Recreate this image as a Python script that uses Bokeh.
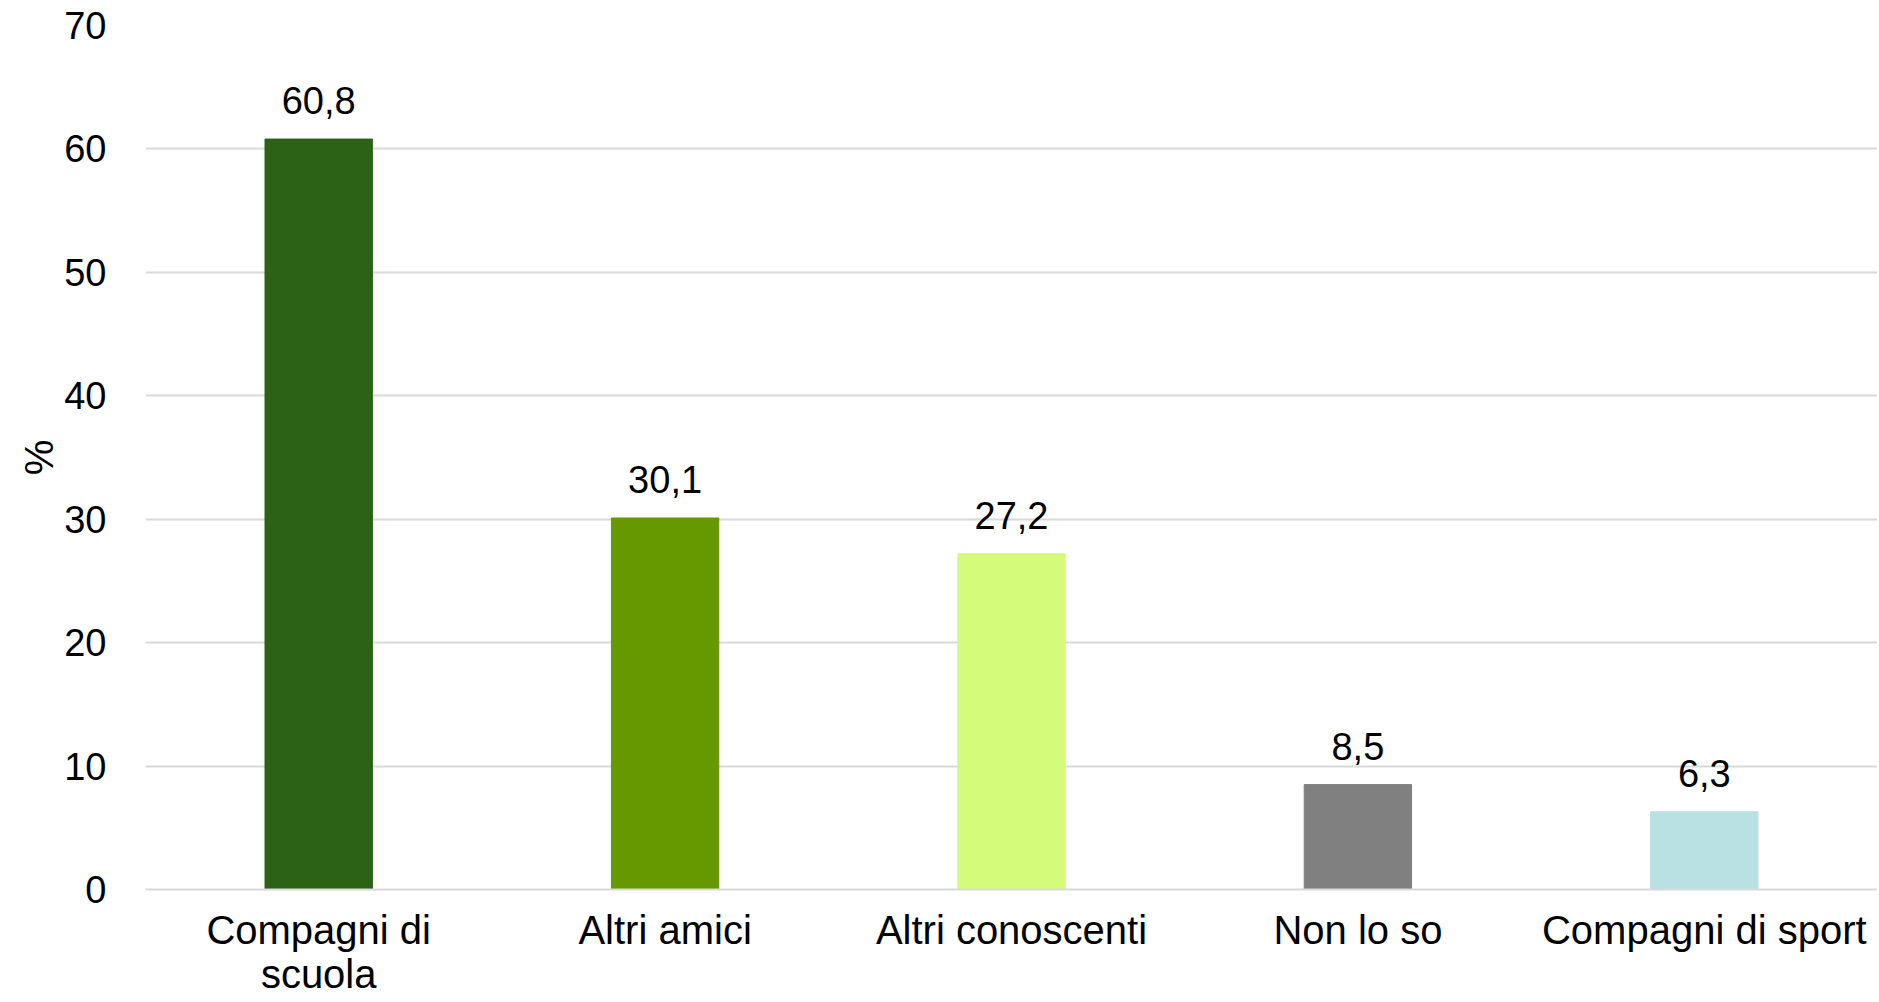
from bokeh.plotting import figure
from bokeh.models import ColumnDataSource, FactorRange, Range1d, FixedTicker
from bokeh.core.properties import value
from bokeh.embed import file_html
from bokeh.resources import INLINE

categories = ["Compagni di\nscuola", "Altri amici", "Altri conoscenti", "Non lo so", "Compagni di sport"]
values = [60.8, 30.1, 27.2, 8.5, 6.3]
labels = ["60,8", "30,1", "27,2", "8,5", "6,3"]
colors = ["#2b6215", "#669900", "#d4fb7a", "#808080", "#b9e0e3"]
y_ticks = [0, 10, 20, 30, 40, 50, 60, 70]

FONT = "Liberation Sans"
FS = "38px"
FS_CAT = "40px"
LABEL_GAP = 3.1  # data units between bar top and its value label baseline

src = ColumnDataSource(dict(cat=categories, val=values, lab=labels, col=colors,
                            laby=[v + LABEL_GAP for v in values]))

p = figure(
    x_range=FactorRange(*categories, range_padding=0),
    y_range=Range1d(0, 70),
    width=1877, height=1000,
    output_backend="svg", toolbar_location=None,
    min_border_left=145, min_border_top=25, min_border_bottom=111, min_border_right=0,
)
p.outline_line_color = None
p.background_fill_color = "white"
p.border_fill_color = "white"

p.vbar(x="cat", top="val", width=0.31, bottom=0, color="col", source=src)
p.text(x="cat", y="laby", text="lab", source=src, text_align="center",
       text_baseline="alphabetic",
       text_font=value(FONT), text_font_size=FS, text_color="black")

# grid
p.xgrid.grid_line_color = None
p.ygrid.grid_line_color = "#d9d9d9"
p.ygrid.grid_line_width = 2
p.yaxis.ticker = FixedTicker(ticks=y_ticks)

# y axis
p.yaxis.axis_line_color = None
p.yaxis.major_tick_line_color = None
p.yaxis.minor_tick_line_color = None
p.yaxis.major_label_text_font = FONT
p.yaxis.major_label_text_font_size = FS
p.yaxis.major_label_text_color = "black"
p.yaxis.major_label_standoff = 33
p.yaxis.axis_label = "%"
p.yaxis.axis_label_text_font = FONT
p.yaxis.axis_label_text_font_size = FS_CAT
p.yaxis.axis_label_text_font_style = "normal"
p.yaxis.axis_label_text_color = "black"
p.yaxis.axis_label_standoff = 0

# x axis
p.xaxis.axis_line_color = "#d9d9d9"
p.xaxis.axis_line_width = 2
p.xaxis.major_tick_line_color = None
p.xaxis.minor_tick_line_color = None
p.xaxis.major_tick_out = 0
p.xaxis.major_label_text_font = FONT
p.xaxis.major_label_text_font_size = FS_CAT
p.xaxis.major_label_text_color = "black"
p.xaxis.major_label_standoff = 18
p.xaxis.major_label_text_line_height = 1.0
p.xaxis.major_label_orientation = "horizontal"

open("out.html", "w").write(file_html(p, INLINE))
